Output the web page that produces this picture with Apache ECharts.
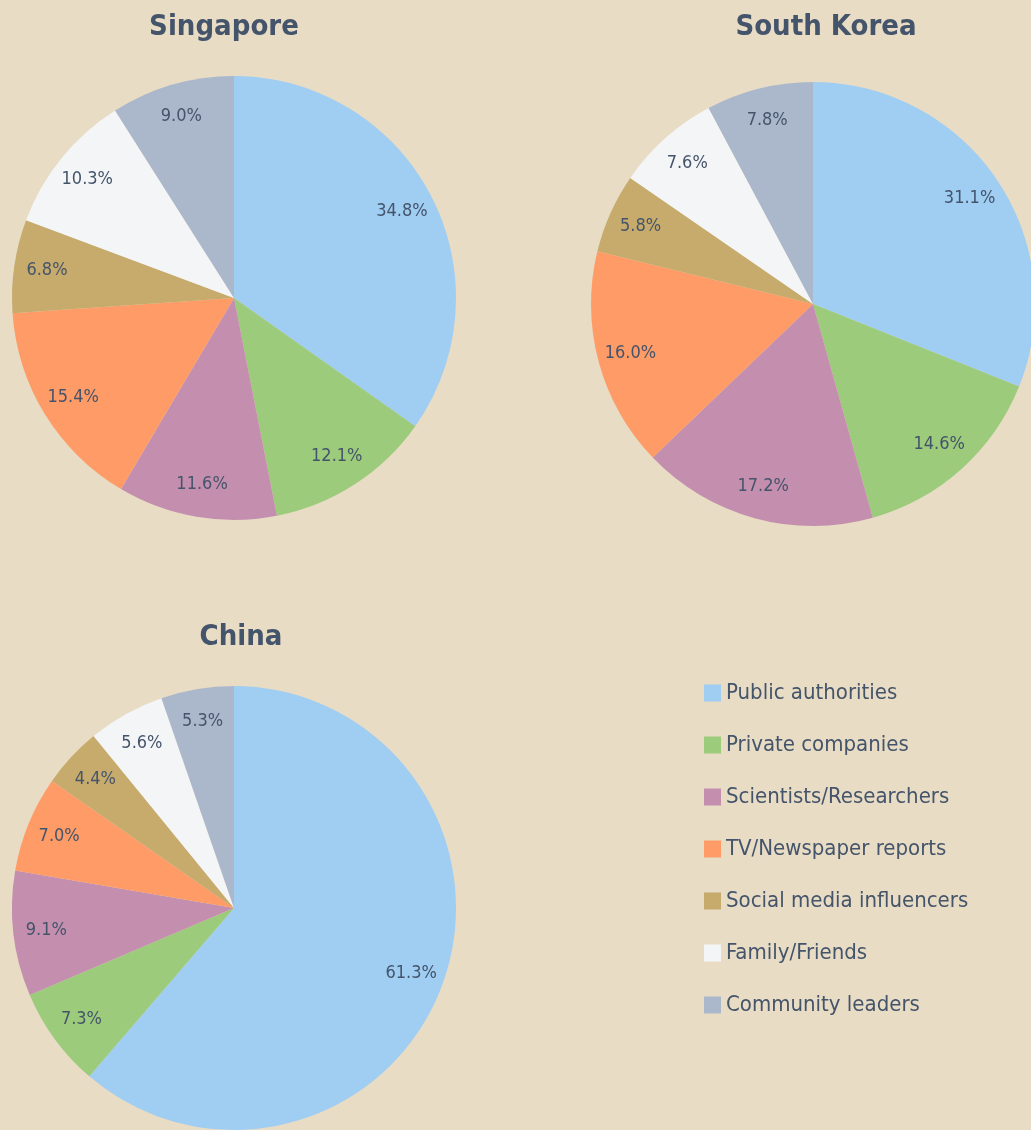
<!DOCTYPE html>
<html>
<head>
<meta charset="utf-8">
<script src="https://cdn.jsdelivr.net/npm/echarts@6/dist/echarts.min.js"></script>
<style>
  html, body { margin: 0; padding: 0; background: #E8DCC5; }
  #chart { width: 1031px; height: 1130px; }
</style>
</head>
<body>
<div id="chart"></div>
<script>
// categories and values per country (percent)
const categories = ['Public authorities', 'Private companies', 'Scientists/Researchers',
  'TV/Newspaper reports', 'Social media influencers', 'Family/Friends', 'Community leaders'];
const singapore = [34.8, 12.1, 11.6, 15.4, 6.8, 10.3, 9.0];
const southKorea = [31.1, 14.6, 17.2, 16.0, 5.8, 7.6, 7.8];
const china = [61.3, 7.3, 9.1, 7.0, 4.4, 5.6, 5.3];
const colors = ['#A0CDF2', '#9BCB7B', '#C48FAE', '#FF9B66', '#C7AB6C', '#F4F5F7', '#ABB8CC'];

const font = '"DejaVu Sans Condensed", "DejaVu Sans", sans-serif';
const textColor = '#44546A';
const R = 222;

function toData(vals) {
  return categories.map((c, i) => ({ name: c, value: vals[i] }));
}

// the filled pie
function pie(vals, cx, cy) {
  return {
    type: 'pie',
    center: [cx, cy],
    radius: [0, R],
    startAngle: 90,
    clockwise: true,
    silent: true,
    label: { show: false },
    labelLine: { show: false },
    itemStyle: { color: p => colors[p.dataIndex] },
    data: toData(vals)
  };
}

// transparent ring, only there to put the percent labels further out
function labels(vals, cx, cy) {
  return {
    type: 'pie',
    center: [cx, cy],
    radius: [150, R],
    startAngle: 90,
    clockwise: true,
    silent: true,
    itemStyle: { color: 'rgba(0,0,0,0)' },
    label: {
      show: true,
      position: 'inside',
      formatter: p => p.value.toFixed(1) + '%',
      fontFamily: font,
      fontSize: 18,
      color: textColor
    },
    labelLine: { show: false },
    data: toData(vals)
  };
}

const chart = echarts.init(document.getElementById('chart'));
const titleStyle = { fontFamily: font, fontSize: 29, fontWeight: 'bold', color: textColor };

chart.setOption({
  animation: false,
  backgroundColor: '#E8DCC5',
  color: colors,
  title: [
    { text: 'Singapore', left: 219, top: 8, textAlign: 'center', textStyle: titleStyle },
    { text: 'South Korea', left: 821, top: 8, textAlign: 'center', textStyle: titleStyle },
    { text: 'China', left: 236, top: 618, textAlign: 'center', textStyle: titleStyle }
  ],
  legend: {
    orient: 'vertical',
    left: 699,
    top: 677,
    itemWidth: 17,
    itemHeight: 17,
    itemGap: 30,
    icon: 'rect',
    selectedMode: false,
    data: categories,
    textStyle: { fontFamily: font, fontSize: 22, color: textColor }
  },
  series: [
    pie(singapore, 234, 298),
    pie(southKorea, 813, 304),
    pie(china, 234, 908),
    labels(singapore, 234, 298),
    labels(southKorea, 813, 304),
    labels(china, 234, 908)
  ]
});
</script>
</body>
</html>
